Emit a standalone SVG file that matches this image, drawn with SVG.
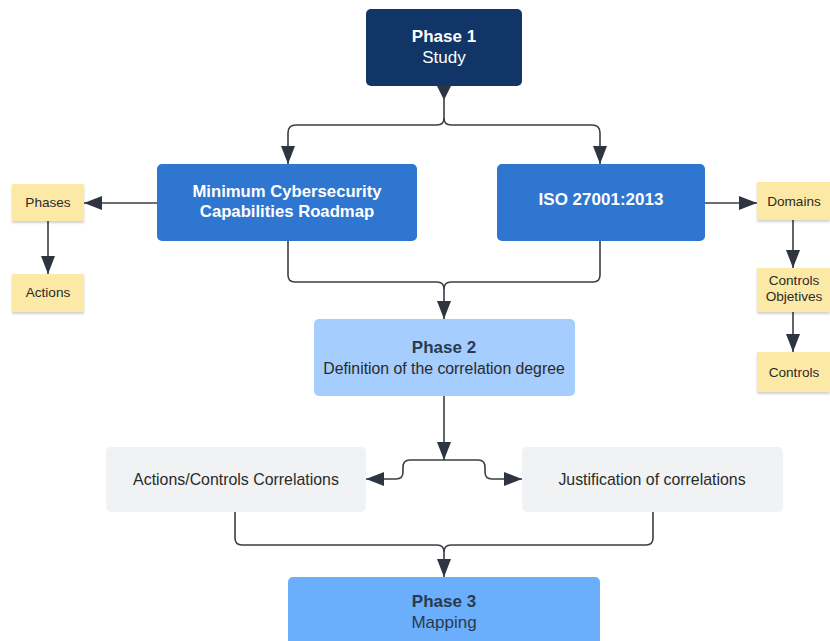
<svg xmlns="http://www.w3.org/2000/svg" width="830" height="641" viewBox="0 0 830 641">
  <defs>
    <marker id="arrow" viewBox="0 0 18 14" refX="18" refY="7" markerWidth="18" markerHeight="14" markerUnits="userSpaceOnUse" orient="auto">
      <path d="M0,0 L18,7 L0,14 Z" fill="#2e3540"/>
    </marker>
    <filter id="shadow" x="-10%" y="-10%" width="130%" height="140%">
      <feDropShadow dx="0" dy="2" stdDeviation="1.2" flood-color="#000" flood-opacity="0.18"/>
    </filter>
  </defs>
  <style>
    .t { font-family: "Liberation Sans", Arial, sans-serif; text-anchor: middle; }
    .w { fill: #ffffff; }
    .d { fill: #2b3a4e; }
    .k { fill: #2a2a2a; }
    .b { font-weight: bold; }
    .note { fill: #fde9a6; filter: url(#shadow); }
    .c { fill: none; stroke: #3a3f46; stroke-width: 1.6; }
  </style>
  <rect width="830" height="641" fill="#ffffff"/>

  <!-- connectors -->
  <g id="connectors">
    <polygon points="436,84 452,84 444,100" fill="#2e3540"/>
    <path class="c" d="M444,96 V118 Q444,125 437,125 H296 Q288,125 288,133 V164" marker-end="url(#arrow)"/>
    <path class="c" d="M444,118 Q444,125 451,125 H592 Q600,125 600,133 V164" marker-end="url(#arrow)"/>
    <path class="c" d="M157,203 H84" marker-end="url(#arrow)"/>
    <path class="c" d="M48,221 V274" marker-end="url(#arrow)"/>
    <path class="c" d="M705,203 H757" marker-end="url(#arrow)"/>
    <path class="c" d="M793,220 V268" marker-end="url(#arrow)"/>
    <path class="c" d="M793,312 V352" marker-end="url(#arrow)"/>
    <path class="c" d="M288,241 V275 Q288,282 295,282 H437 Q444,282 444,289 V319" marker-end="url(#arrow)"/>
    <path class="c" d="M600,241 V275 Q600,282 593,282 H451 Q444,282 444,289"/>
    <path class="c" d="M444,396 V460" marker-end="url(#arrow)"/>
    <path class="c" d="M444,460 H410 Q403,460 403,467 V472 Q403,479 396,479 H366" marker-end="url(#arrow)"/>
    <path class="c" d="M444,460 H478 Q485,460 485,467 V472 Q485,479 492,479 H522" marker-end="url(#arrow)"/>
    <path class="c" d="M235,512 V538 Q235,545 242,545 H437 Q444,545 444,552 V577" marker-end="url(#arrow)"/>
    <path class="c" d="M653,512 V538 Q653,545 646,545 H451 Q444,545 444,552"/>
  </g>

  <g id="phase1">
    <rect x="366" y="9" width="156" height="77" rx="5" fill="#103566"/>
    <text class="t w b" x="444" y="42" font-size="17">Phase 1</text>
    <text class="t w" x="444" y="63" font-size="17">Study</text>
  </g>

  <g id="roadmap">
    <rect x="157" y="164" width="260" height="77" rx="5" fill="#2f76d0"/>
    <text class="t w b" x="287" y="197" font-size="16.7">Minimum Cybersecurity</text>
    <text class="t w b" x="287" y="217" font-size="16.7">Capabilities Roadmap</text>
  </g>

  <g id="iso">
    <rect x="497" y="164" width="208" height="77" rx="5" fill="#2f76d0"/>
    <text class="t w b" x="601" y="205" font-size="17">ISO 27001:2013</text>
  </g>

  <g id="phases">
    <rect class="note" x="12" y="184" width="72" height="37"/>
    <text class="t k" x="48" y="207" font-size="13.6">Phases</text>
  </g>

  <g id="actions">
    <rect class="note" x="12" y="274" width="72" height="38"/>
    <text class="t k" x="48" y="297" font-size="13.6">Actions</text>
  </g>

  <g id="domains">
    <rect class="note" x="757" y="182" width="73" height="38"/>
    <text class="t k" x="794" y="206" font-size="13.6">Domains</text>
  </g>

  <g id="objectives">
    <rect class="note" x="757" y="268" width="73" height="44"/>
    <text class="t k" x="794" y="285" font-size="13.6">Controls</text>
    <text class="t k" x="794" y="301" font-size="13.6">Objetives</text>
  </g>

  <g id="controls">
    <rect class="note" x="757" y="352" width="73" height="40"/>
    <text class="t k" x="794" y="377" font-size="13.6">Controls</text>
  </g>

  <g id="phase2">
    <rect x="314" y="319" width="261" height="77" rx="5" fill="#a5cdfd"/>
    <text class="t d b" x="444" y="353" font-size="17">Phase 2</text>
    <text class="t k" x="444" y="374" font-size="15.8">Definition of the correlation degree</text>
  </g>

  <g id="correlations">
    <rect x="106" y="447" width="260" height="65" rx="5" fill="#f1f2f4"/>
    <text class="t k" x="236" y="485" font-size="15.9">Actions/Controls Correlations</text>
  </g>

  <g id="justification">
    <rect x="522" y="447" width="261" height="65" rx="5" fill="#f1f2f4"/>
    <text class="t k" x="652" y="485" font-size="15.9">Justification of correlations</text>
  </g>

  <g id="phase3">
    <rect x="288" y="577" width="312" height="72" rx="5" fill="#6aaefc"/>
    <text class="t d b" x="444" y="607" font-size="17">Phase 3</text>
    <text class="t d" x="444" y="628" font-size="17">Mapping</text>
  </g>
</svg>
